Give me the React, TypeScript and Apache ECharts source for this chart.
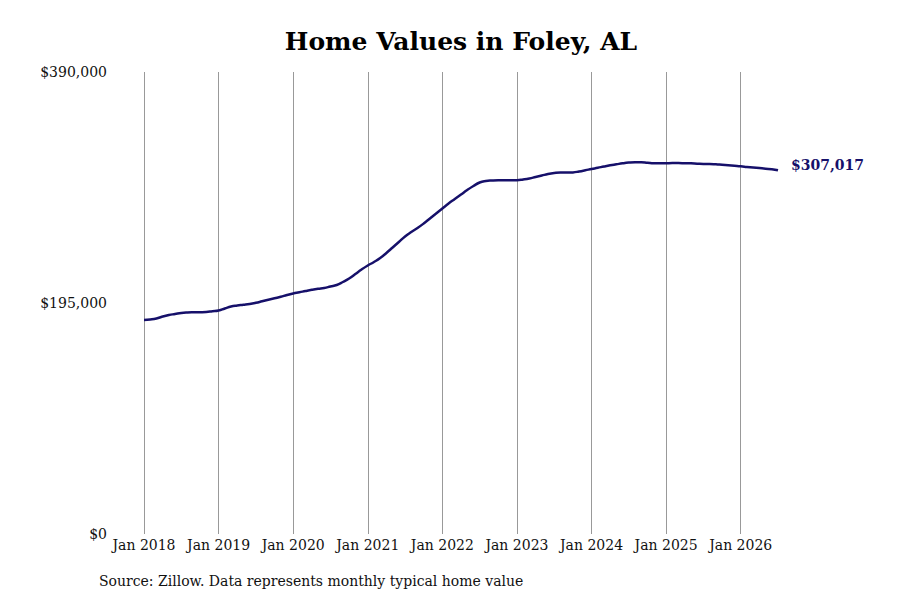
import { useEffect, useRef } from 'react';
import * as echarts from 'echarts';

// monthly typical home value, Jan 2018 .. Jul 2026
const years = [2018, 2019, 2020, 2021, 2022, 2023, 2024, 2025, 2026];
const monthNames = ['Jan', 'Feb', 'Mar', 'Apr', 'May', 'Jun', 'Jul', 'Aug', 'Sep', 'Oct', 'Nov', 'Dec'];

const values = [
  // 2018
  180650, 181070, 181920, 183600, 184870, 185720, 186560, 186980, 187150, 187230, 187400, 188000,
  // 2019
  188670, 190360, 192040, 192890, 193480, 194160, 195170, 196440, 197700, 198970, 200230, 201750,
  // 2020
  203020, 204030, 205130, 206140, 206990, 207660, 208930, 210200, 212730, 215680, 219480, 223280,
  // 2021
  226660, 229610, 232990, 237210, 241850, 246490, 251140, 254930, 258310, 262110, 266330, 270550,
  // 2022
  274770, 278990, 282790, 286590, 290390, 293770, 296720, 297990, 298410, 298580, 298580, 298580,
  // 2023
  298660, 299250, 300100, 301360, 302630, 303900, 304740, 305160, 305080, 305250, 306010, 307020,
  // 2024
  308120, 309130, 310230, 311240, 312090, 312930, 313520, 313770, 313770, 313350, 312930, 312930,
  // 2025
  313010, 313100, 313100, 313010, 312930, 312590, 312340, 312340, 312090, 311660, 311240, 310820,
  // 2026
  310400, 309890, 309390, 308880, 308370, 307950, 307017,
];

const categories = values.map((_, i) => `${monthNames[i % 12]} ${years[Math.floor(i / 12)]}`);

const yTicks = [0, 195000, 390000];

const fmtMoney = (v: number) => '$' + v.toLocaleString('en-US');

export default function App() {
  const chartRef = useRef<HTMLDivElement>(null);

  useEffect(() => {
    if (!chartRef.current) return;
    const chart = echarts.init(chartRef.current, undefined, { renderer: 'svg' });

    const font = '"DejaVu Serif", serif';

    chart.setOption({
      animation: false,
      backgroundColor: '#ffffff',
      title: {
        text: 'Home Values in Foley, AL',
        left: 456,
        top: 24,
        textAlign: 'center',
        textStyle: {
          fontFamily: font,
          fontSize: 25,
          fontWeight: 'bold',
          color: '#000000',
        },
      },
      grid: {
        left: 144,
        right: 122,
        top: 72,
        bottom: 66,
      },
      xAxis: {
        type: 'category',
        data: categories,
        boundaryGap: false,
        axisLine: { show: false },
        axisTick: { show: false },
        axisLabel: {
          interval: (i: number) => i % 12 === 0,
          formatter: (v: string) => v,
          fontFamily: font,
          fontSize: 14,
          color: '#111111',
          margin: 4,
        },
        splitLine: {
          show: true,
          interval: (i: number) => i % 12 === 0,
          lineStyle: { color: '#999999', width: 1 },
        },
      },
      yAxis: {
        type: 'value',
        min: yTicks[0],
        max: yTicks[yTicks.length - 1],
        interval: yTicks[1] - yTicks[0],
        axisLine: { show: false },
        axisTick: { show: false },
        splitLine: { show: false },
        axisLabel: {
          formatter: (v: number) => fmtMoney(v),
          fontFamily: font,
          fontSize: 14,
          color: '#111111',
          margin: 37,
        },
      },
      series: [
        {
          type: 'line',
          data: values,
          smooth: true,
          showSymbol: false,
          lineStyle: { color: '#16106a', width: 2.5 },
          endLabel: {
            show: true,
            formatter: () => fmtMoney(values[values.length - 1]),
            fontFamily: font,
            fontSize: 14,
            fontWeight: 'bold',
            color: '#16106a',
            distance: 13,
            offset: [0, -5],
          },
        },
      ],
      graphic: [
        {
          type: 'text',
          left: 99,
          top: 574,
          style: {
            text: 'Source: Zillow. Data represents monthly typical home value',
            font: `14px ${font}`,
            fill: '#111111',
          },
        },
      ],
    });

    return () => chart.dispose();
  }, []);

  return (
    <div
      ref={chartRef}
      style={{ position: 'absolute', left: 0, top: 0, width: 900, height: 600 }}
    />
  );
}
